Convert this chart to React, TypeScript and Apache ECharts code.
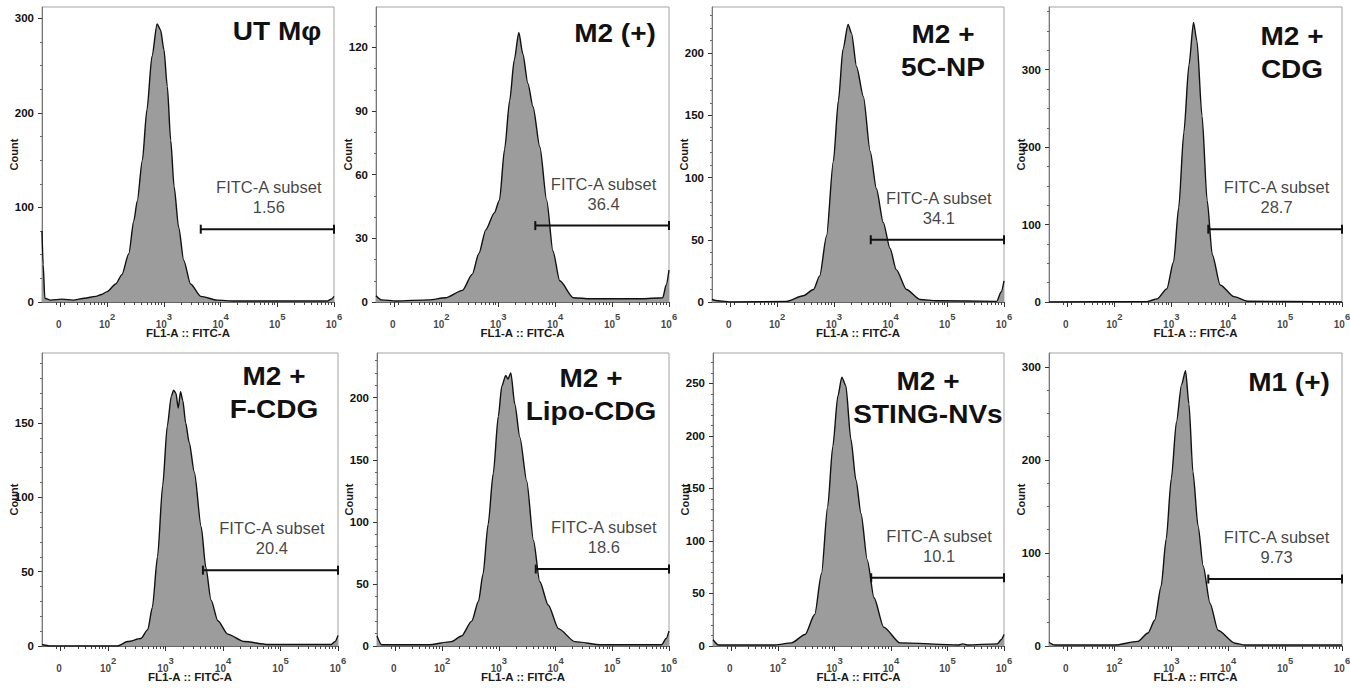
import React, { useEffect, useRef } from "react";
import * as echarts from "echarts";

// ---------- data (x = position on the biexponential FITC scale in decades, y = count) ----------
const utMph: [number, number][] = [
  [0.85, 75], [0.87, 40], [0.9, 4], [1.0, 2], [1.2, 3], [1.4, 2], [1.6, 4], [1.8, 6], [1.9, 8], [2.0, 11],
  [2.15, 19], [2.26, 29], [2.38, 51], [2.47, 86], [2.53, 107], [2.62, 150], [2.7, 203], [2.79, 260],
  [2.88, 294], [2.94, 288], [3.0, 267], [3.06, 228], [3.12, 171], [3.18, 122], [3.26, 79], [3.35, 44],
  [3.47, 19], [3.65, 6], [3.94, 2], [4.24, 1], [5.0, 1], [5.88, 1], [5.95, 3], [6.0, 6],
];
const m2Pos: [number, number][] = [
  [0.85, 3], [0.95, 1], [1.2, 0.5], [1.78, 1], [2.07, 2], [2.37, 5.5], [2.54, 13], [2.66, 23], [2.78, 34],
  [2.93, 42], [3.02, 48], [3.11, 72], [3.2, 95], [3.28, 114], [3.36, 127], [3.43, 117], [3.52, 103],
  [3.61, 92], [3.73, 73], [3.85, 48], [3.96, 24], [4.08, 10], [4.32, 2], [4.62, 1.5], [5.5, 1.5],
  [5.89, 2], [5.95, 8], [6.0, 15],
];
const m2FiveCNP: [number, number][] = [
  [0.85, 2], [0.95, 1], [1.2, 0], [2.16, 0.5], [2.46, 5], [2.64, 10], [2.75, 21], [2.87, 53], [2.99, 113],
  [3.08, 162], [3.16, 203], [3.25, 223], [3.31, 216], [3.4, 189], [3.52, 165], [3.64, 121], [3.75, 91],
  [3.87, 64], [3.99, 43], [4.1, 26], [4.28, 10], [4.52, 2], [4.81, 1], [5.87, 0.5], [5.95, 8], [6.0, 17],
];
const m2Cdg: [number, number][] = [
  [0.85, 0], [2.57, 0.5], [2.75, 4], [2.92, 17], [3.04, 52], [3.13, 122], [3.22, 219], [3.31, 306],
  [3.39, 361], [3.45, 337], [3.54, 240], [3.63, 131], [3.72, 61], [3.86, 22], [4.1, 7], [4.34, 1], [6.0, 0],
];
const m2FCdg: [number, number][] = [
  [0.85, 1], [1.0, 0], [2.16, 0], [2.34, 3], [2.57, 5], [2.69, 11], [2.77, 26], [2.86, 60], [2.95, 108],
  [3.03, 148], [3.1, 168], [3.14, 172], [3.18, 170], [3.22, 160], [3.26, 171], [3.3, 165], [3.35, 150],
  [3.41, 137], [3.5, 117], [3.62, 80], [3.7, 53], [3.79, 31], [3.91, 17], [4.08, 8], [4.37, 3], [4.78, 1],
  [5.88, 1], [5.95, 3], [6.0, 7],
];
const m2LipoCdg: [number, number][] = [
  [0.85, 8], [0.93, 1], [1.75, 1], [2.16, 3.5], [2.34, 8], [2.52, 20], [2.64, 36], [2.72, 58], [2.81, 98],
  [2.9, 139], [2.99, 185], [3.05, 209], [3.12, 218], [3.16, 215], [3.21, 220], [3.28, 195], [3.37, 168],
  [3.49, 133], [3.61, 85], [3.72, 52], [3.87, 33], [4.05, 14], [4.34, 3.5], [4.81, 1], [5.87, 1],
  [5.95, 6], [6.0, 12],
];
const m2StingNvs: [number, number][] = [
  [0.85, 6], [0.95, 1], [1.95, 1], [2.24, 3], [2.48, 11], [2.65, 30], [2.77, 69], [2.88, 133], [2.97, 190],
  [3.06, 238], [3.13, 256], [3.2, 248], [3.29, 197], [3.38, 158], [3.47, 126], [3.58, 82], [3.7, 46],
  [3.87, 18], [4.16, 3], [5.2, 1], [5.27, 2], [5.35, 1], [5.88, 2], [5.95, 6], [6.0, 11],
];
const m1Pos: [number, number][] = [
  [0.85, 4], [0.95, 1], [2.0, 1], [2.41, 5], [2.59, 14], [2.71, 28], [2.82, 64], [2.91, 115], [3.0, 180],
  [3.09, 241], [3.18, 281], [3.25, 296], [3.31, 260], [3.38, 187], [3.47, 129], [3.56, 86], [3.68, 46],
  [3.82, 17], [4.12, 3], [4.29, 1], [6.0, 1],
];

const histograms = [utMph, m2Pos, m2FiveCNP, m2Cdg, m2FCdg, m2LipoCdg, m2StingNvs, m1Pos];
const panelTitles = ["UT Mφ", "M2 (+)", "M2 +\n5C-NP", "M2 +\nCDG", "M2 +\nF-CDG", "M2 +\nLipo-CDG", "M2 +\nSTING-NVs", "M1 (+)"];
const subsetPercents = ["1.56", "36.4", "34.1", "28.7", "20.4", "18.6", "10.1", "9.73"];
const gateCounts = [77, 36, 50, 94, 51, 62, 65, 72];
const gateStart = 3.65;
const gateEnd = 6.0;
const gateLabelX = 4.85;
const yMaxes = [312, 139, 237, 381, 197, 236, 279, 315];
const yMajorSteps = [100, 30, 50, 100, 50, 50, 50, 100];
const yMinorSteps = [25, 10, 10, 25, 10, 10, 10, 25];
const xMajorPos = [1.17, 2, 3, 4, 5, 6];
const xTickBase = ["0", "10", "10", "10", "10", "10"];
const xTickExp = ["", "2", "3", "4", "5", "6"];
const xMin = 0.85;
const xMax = 6.0;

// ---------- layout ----------
const gridRects = [
  { left: 42, top: 7, width: 292, height: 295 },
  { left: 376, top: 7, width: 293, height: 295 },
  { left: 712, top: 7, width: 292, height: 295 },
  { left: 1049, top: 7, width: 293, height: 295 },
  { left: 42, top: 353, width: 296, height: 293 },
  { left: 377, top: 353, width: 292, height: 293 },
  { left: 713, top: 353, width: 291, height: 293 },
  { left: 1049, top: 353, width: 293, height: 293 },
];
const titleCenters = [
  [277, 32], [615, 34], [943, 35], [1292, 37],
  [274, 377], [591, 379], [928, 382], [1289, 383],
];

const FONT = "Liberation Sans, Arial, Helvetica, sans-serif";

function range(step: number, max: number, skip?: number) {
  const out: number[] = [];
  for (let v = 0; v <= max + 1e-9; v += step) {
    if (skip && Math.abs(v / skip - Math.round(v / skip)) < 1e-9) continue;
    out.push(v);
  }
  return out;
}

const xMinorPos: number[] = [1.1, 1.24];
for (let d = 1; d <= 5; d++) {
  for (let k = 2; k <= 9; k++) {
    if (d === 1 && k < 3) continue;
    xMinorPos.push(d + Math.log10(k));
  }
}

function buildOption() {
  const grid: any[] = [];
  const xAxis: any[] = [];
  const yAxis: any[] = [];
  const series: any[] = [];
  const graphic: any[] = [];

  histograms.forEach((hist, i) => {
    const r = gridRects[i];
    grid.push({ ...r, show: true, borderColor: "#a3a3a3", borderWidth: 1, backgroundColor: "transparent", containLabel: false });

    xAxis.push({
      type: "value", gridIndex: i, min: xMin, max: xMax, position: "bottom",
      axisLine: { show: true, onZero: false, lineStyle: { color: "#666", width: 1 } },
      axisTick: { show: true, customValues: xMajorPos, length: 5, lineStyle: { color: "#333" } },
      axisLabel: { show: false },
      splitLine: { show: false },
      name: "FL1-A :: FITC-A", nameLocation: "middle", nameGap: 25, nameMoveOverlap: false,
      nameTextStyle: { fontSize: 11.5, fontWeight: "bold", fontFamily: FONT, color: "#1a1a1a" },
    });
    xAxis.push({
      type: "value", gridIndex: i, min: xMin, max: xMax, position: "bottom",
      axisLine: { show: false, onZero: false },
      axisTick: { show: true, customValues: xMinorPos, length: 3, lineStyle: { color: "#444" } },
      axisLabel: { show: false },
      splitLine: { show: false },
    });

    const majors = range(yMajorSteps[i], yMaxes[i]);
    const minors = range(yMinorSteps[i], yMaxes[i], yMajorSteps[i]);
    yAxis.push({
      type: "value", gridIndex: i, min: 0, max: yMaxes[i], interval: yMajorSteps[i], position: "left",
      axisLine: { show: true, onZero: false, lineStyle: { color: "#777", width: 1 } },
      axisTick: { show: true, customValues: majors, length: 4, lineStyle: { color: "#333" } },
      axisLabel: {
        show: true, showMaxLabel: false, margin: 8,
        fontSize: 11.5, fontWeight: "bold", fontFamily: FONT, color: "#111",
      },
      splitLine: { show: false },
      name: "Count", nameLocation: "middle", nameGap: 23, nameMoveOverlap: false,
      nameTextStyle: { fontSize: 11, fontWeight: "bold", fontFamily: FONT, color: "#1a1a1a" },
    });
    yAxis.push({
      type: "value", gridIndex: i, min: 0, max: yMaxes[i], position: "left",
      axisLine: { show: false, onZero: false },
      axisTick: { show: true, customValues: minors, length: 2, lineStyle: { color: "#666" } },
      axisLabel: { show: false },
      splitLine: { show: false },
    });

    series.push({
      type: "line", xAxisIndex: 2 * i, yAxisIndex: 2 * i, data: hist,
      symbol: "none", showSymbol: false, smooth: 0.25, smoothMonotone: "x",
      lineStyle: { color: "#111", width: 1.4 },
      areaStyle: { color: "#9c9c9c", opacity: 1 },
      silent: true, z: 2,
    });
    series.push({
      type: "line", xAxisIndex: 2 * i, yAxisIndex: 2 * i,
      data: [[gateStart, gateCounts[i]], [gateEnd, gateCounts[i]]],
      symbol: "rect", symbolSize: [2, 9], showSymbol: true, clip: false,
      itemStyle: { color: "#111" }, lineStyle: { color: "#111", width: 2 },
      silent: true, z: 4,
    });
    series.push({
      type: "scatter", xAxisIndex: 2 * i, yAxisIndex: 2 * i,
      data: [[gateLabelX, gateCounts[i]]],
      symbolSize: 0.1, itemStyle: { color: "rgba(0,0,0,0)" }, silent: true, z: 5,
      label: {
        show: true, position: "top", distance: 12,
        formatter: `FITC-A subset\n${subsetPercents[i]}`,
        fontSize: 16.5, lineHeight: 20, fontFamily: FONT, color: "#111", align: "center",
      },
    });
    // x tick labels (biexponential scale: 0, 10^2 ... 10^6), placed through the x scale
    series.push({
      type: "scatter", xAxisIndex: 2 * i, yAxisIndex: 2 * i,
      data: xMajorPos.map((p, k) => ({ value: [p, 0], name: String(k) })),
      symbolSize: 0.1, itemStyle: { color: "rgba(0,0,0,0)" }, silent: true, clip: false, z: 5,
      label: {
        show: true, position: "bottom", distance: 9,
        formatter: (p: any) => {
          const k = Number(p.name);
          return `{b|${xTickBase[k]}}{s|${xTickExp[k] || " "}}`;
        },
        rich: {
          b: { fontSize: 10, fontWeight: "bold", fontFamily: FONT, color: "#111", lineHeight: 18, verticalAlign: "bottom" },
          s: { fontSize: 9.5, fontWeight: "bold", fontFamily: FONT, color: "#111", lineHeight: 18, verticalAlign: "top" },
        },
      },
    });

    const [cx, cy] = titleCenters[i];
    graphic.push({
      type: "text", x: cx, y: cy - 16.5, scaleX: 1.12, z: 10,
      style: {
        text: panelTitles[i], fill: "#111", fontSize: 25, fontWeight: "bold", fontFamily: FONT,
        align: "center", verticalAlign: "top", lineHeight: 33,
      },
    });
  });

  return { animation: false, backgroundColor: "#ffffff", grid, xAxis, yAxis, series, graphic };
}

export default function App() {
  const ref = useRef<HTMLDivElement>(null);
  useEffect(() => {
    if (!ref.current) return;
    const chart = echarts.init(ref.current, null, { renderer: "svg" });
    chart.setOption(buildOption());
    return () => chart.dispose();
  }, []);
  return (
    <div
      ref={ref}
      style={{ position: "fixed", left: 0, top: 0, width: 1350, height: 688, background: "#fff" }}
    />
  );
}
